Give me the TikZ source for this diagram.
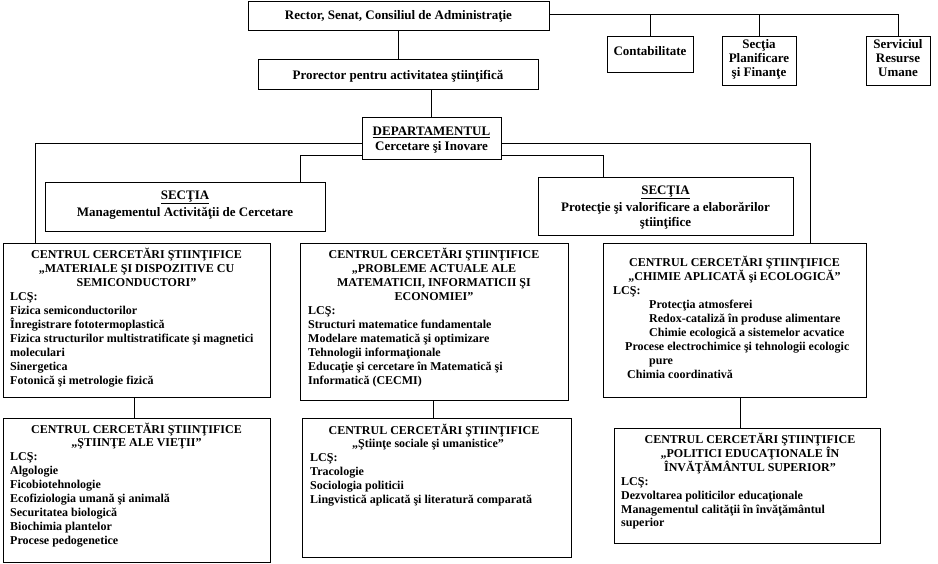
\documentclass[tikz,border=0pt]{standalone}
\usepackage{fontspec}
\setmainfont{Liberation Serif}
\usetikzlibrary{fit}
\tikzset{
  box/.style={draw, line width=1pt, inner sep=0pt},
  conn/.style={line width=0.9pt},
  big/.style={font=\bfseries\fontsize{13}{14}\selectfont, inner sep=0pt, anchor=base},
  sm/.style={font=\bfseries\fontsize{12}{14}\selectfont, inner sep=0pt, anchor=base},
  smL/.style={sm, anchor=base west},
}
\newcommand\mkbox[3]{\node[box, fit={#2 #3}] (#1) {};}
\begin{document}
\begin{tikzpicture}[x=1pt,y=-1pt]
\useasboundingbox[fill=white] (0,0) rectangle (938,564);
% ---------- boxes ----------
\mkbox{rector}{(248,2)}{(549,31)}
\mkbox{pror}{(258,60)}{(538,90)}
\mkbox{contab}{(607,37)}{(693,73)}
\mkbox{secpf}{(722,37)}{(796,86)}
\mkbox{serv}{(866,37)}{(930,86)}
\mkbox{dep}{(362,118)}{(501,160)}
\mkbox{secL}{(45,183)}{(325,232)}
\mkbox{secR}{(538,178)}{(793,236)}
\mkbox{c1}{(3,244)}{(270,397)}
\mkbox{c2}{(300,244)}{(568,400)}
\mkbox{c3}{(603,244)}{(866,397)}
\mkbox{c4}{(3,418)}{(270,562)}
\mkbox{c5}{(302,418)}{(571,557)}
\mkbox{c6}{(614,428)}{(880,543)}
% ---------- top texts ----------
\node[big] (rt) at (398.5,19.5) {Rector, Senat, Consiliul de Administraţie};
\node[big] (pt) at (398,79.5) {Prorector pentru activitatea ştiinţifică};
\node[big] (ct) at (650,55.5) {Contabilitate};
\node[big] (s1) at (759,48.5) {Secţia};
\node[big] (s2) at (759,62.5) {Planificare};
\node[big] (s3) at (759,77) {şi Finanţe};
\node[big] (v1) at (898,48.5) {Serviciul};
\node[big] (v2) at (898,62.5) {Resurse};
\node[big] (v3) at (898,77) {Umane};
\node[big] (d1) at (431.5,136) {\underline{DEPARTAMENTUL}};
\node[big] (d2) at (431.5,151) {Cercetare şi Inovare};
\node[big] (l1) at (185,199.5) {\underline{SECŢIA}};
\node[big] (l2) at (185,216.5) {Managementul Activităţii de Cercetare};
\node[big] (r1) at (665.5,194.5) {\underline{SECŢIA}};
\node[big] (r2) at (665.5,211.5) {Protecţie şi valorificare a elaborărilor};
\node[big] (r3) at (665.5,226.5) {ştiinţifice};
% ---------- C1 ----------
\node[sm] (c1a) at (136.5,259) {CENTRUL CERCETĂRI ŞTIINŢIFICE};
\node[sm] (c1b) at (136.5,272.9) {„MATERIALE ŞI DISPOZITIVE CU};
\node[sm] (c1c) at (136.5,286.8) {SEMICONDUCTORI”};
\foreach \s [count=\i from 3] in {{LCŞ:},{Fizica semiconductorilor},{Înregistrare fototermoplastică},{Fizica structurilor multistratificate şi magnetici},{moleculari},{Sinergetica},{Fotonică şi metrologie fizică}}
  \node[smL] (c1l\i) at (10,259+13.9*\i) {\s};
% ---------- C2 ----------
\node[sm] (c2a) at (434,259) {CENTRUL CERCETĂRI ŞTIINŢIFICE};
\node[sm] (c2b) at (434,272.9) {„PROBLEME ACTUALE ALE};
\node[sm] (c2c) at (434,286.8) {MATEMATICII, INFORMATICII ŞI};
\node[sm] (c2d) at (434,300.7) {ECONOMIEI”};
\foreach \s [count=\i from 4] in {{LCŞ:},{Structuri matematice fundamentale},{Modelare matematică şi optimizare},{Tehnologii informaţionale},{Educaţie şi cercetare în Matematică şi},{Informatică (CECMI)}}
  \node[smL] (c2l\i) at (308,259+13.9*\i) {\s};
% ---------- C3 ----------
\node[sm] (c3a) at (734.5,267) {CENTRUL CERCETĂRI ŞTIINŢIFICE};
\node[sm] (c3b) at (734.5,280.9) {„CHIMIE APLICATĂ şi ECOLOGICĂ”};
\node[smL] (c3c) at (613,294.8) {LCŞ:};
\node[smL] (c3d) at (649,308.7) {Protecţia atmosferei};
\node[smL] (c3e) at (649,322.6) {Redox-cataliză în produse alimentare};
\node[smL] (c3f) at (649,336.5) {Chimie ecologică a sistemelor acvatice};
\node[smL] (c3g) at (625,350.4) {Procese electrochimice şi tehnologii ecologic};
\node[smL] (c3h) at (649,364.3) {pure};
\node[smL] (c3i) at (627,378.2) {Chimia coordinativă};
% ---------- C4 ----------
\node[sm] (c4a) at (136.5,433) {CENTRUL CERCETĂRI ŞTIINŢIFICE};
\node[sm] (c4b) at (136.5,446.9) {„ŞTIINŢE ALE VIEŢII”};
\foreach \s [count=\i from 2] in {{LCŞ:},{Algologie},{Ficobiotehnologie},{Ecofiziologia umană şi animală},{Securitatea biologică},{Biochimia plantelor},{Procese pedogenetice}}
  \node[smL] (c4l\i) at (10,433+13.9*\i) {\s};
% ---------- C5 ----------
\node[sm] (c5a) at (434,434) {CENTRUL CERCETĂRI ŞTIINŢIFICE};
\node[sm] (c5b) at (428,447.9) {„Ştiinţe sociale şi umanistice”};
\foreach \s [count=\i from 2] in {{LCŞ:},{Tracologie},{Sociologia politicii},{Lingvistică aplicată şi literatură comparată}}
  \node[smL] (c5l\i) at (310,434+13.9*\i) {\s};
% ---------- C6 ----------
\node[sm] (c6a) at (750,443.5) {CENTRUL CERCETĂRI ŞTIINŢIFICE};
\node[sm] (c6b) at (750,457.4) {„POLITICI EDUCAŢIONALE ÎN};
\node[sm] (c6c) at (750,471.3) {ÎNVĂŢĂMÂNTUL SUPERIOR”};
\foreach \s [count=\i from 3] in {{LCŞ:},{Dezvoltarea politicilor educaţionale},{Managementul calităţii în învăţământul},{superior}}
  \node[smL] (c6l\i) at (621,443.5+13.9*\i) {\s};
% ---------- connectors ----------
\coordinate (bus) at ([yshift=2.5pt]rector.east);
\draw[conn] (bus) -| (serv.north);
\draw[conn] (contab.north) -- (contab.north |- bus);
\draw[conn] (secpf.north) -- (secpf.north |- bus);
\draw[conn] (rector.south) -- (rector.south |- pror.north);
\draw[conn] (dep.north) -- (dep.north |- pror.south);
\coordinate (c1top) at (35,244);
\coordinate (c3top) at (810,244);
\coordinate (secLtop) at (300,183);
\coordinate (secRtop) at (603,178);
\draw[conn] ([yshift=-4pt]dep.west) -| (c1top);
\draw[conn] ([yshift=-4pt]dep.east) -| (c3top);
\draw[conn] ([yshift=-16pt]dep.west) -| (secLtop);
\draw[conn] ([yshift=-16pt]dep.east) -| (secRtop);
\draw[conn] ([xshift=-2.5pt]c1.south) -- ([xshift=-2.5pt]c1.south |- c4.north);
\draw[conn] ([xshift=-1pt]c2.south) -- ([xshift=-1pt]c2.south |- c5.north);
\draw[conn] ([xshift=5.5pt]c3.south) -- ([xshift=5.5pt]c3.south |- c6.north);
\end{tikzpicture}
\end{document}
